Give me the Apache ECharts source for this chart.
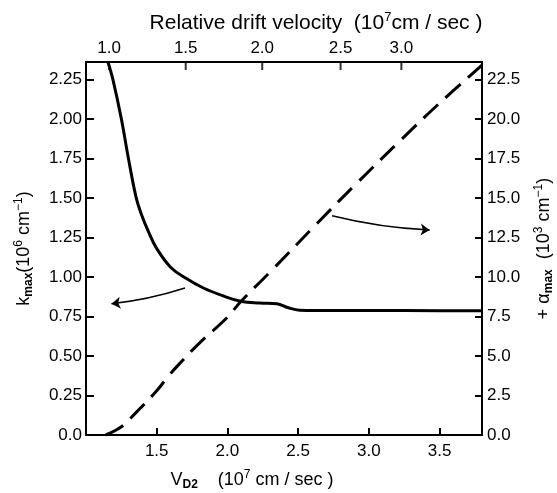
<!DOCTYPE html>
<html>
<head>
<meta charset="utf-8">
<script src="https://cdn.jsdelivr.net/npm/echarts@6/dist/echarts.min.js"></script>
<style>
html,body{margin:0;padding:0;background:#fff;}
#chart{width:557px;height:493px;}
</style>
</head>
<body>
<div id="chart"></div>
<script>
// Bottom axis: V_D2 (10^7 cm/sec)
const xMin = 1.0, xMax = 3.8;
// Top axis: relative drift velocity, tick positions expressed in V_D2 units
const topTickPositions = [1.163, 1.705, 2.246, 2.80, 3.23];
const topTickLabels = ['1.0', '1.5', '2.0', '2.5', '3.0'];
// left axis range (k_max) and right axis range (alpha_max)
const kMax = 2.36, alphaMax = 23.6;
// k_max (10^6 cm^-1) vs V_D2
const kmaxV = [1.155, 1.19, 1.25, 1.30, 1.355, 1.39, 1.44, 1.50, 1.60, 1.71, 1.83, 1.97, 2.10, 2.23, 2.35, 2.43, 2.51, 2.63, 3.0, 3.5, 3.8];
const kmaxVal = [2.36, 2.25, 2.00, 1.75, 1.50, 1.40, 1.29, 1.18, 1.06, 0.99, 0.93, 0.88, 0.845, 0.835, 0.83, 0.805, 0.79, 0.788, 0.788, 0.786, 0.786];
// alpha_max (10^3 cm^-1) vs V_D2
const alphaV = [1.14, 1.20, 1.27, 1.33, 1.39, 1.50, 1.585, 1.66, 1.80, 2.00, 2.09, 2.30, 2.63, 2.90, 3.23, 3.50, 3.80];
const alphaVal = [0.0, 0.25, 0.65, 1.2, 1.75, 2.8, 3.75, 4.5, 5.8, 7.45, 8.4, 10.3, 13.35, 15.8, 18.7, 21.0, 23.4];
// annotation arrows (in V_D2 / k_max units)
const arrowLeft = [[1.70, 0.93], [1.18, 0.83]];
const arrowRight = [[2.74, 1.387], [3.43, 1.297]];

const FONT = 'Liberation Sans';
const black = '#000';

const chart = echarts.init(document.getElementById('chart'));
const pair = (xs, ys) => xs.map((x, i) => [x, ys[i]]);

const supRich = {
  n: {fontSize: 18, fontFamily: FONT, color: black},
  sup: {fontSize: 12, fontFamily: FONT, color: black, padding: [0, 0, 11, 0]},
  sub: {fontSize: 12, fontFamily: FONT, color: black, fontWeight: 'bold', padding: [9, 0, 0, 0]}
};
const topRich = {
  n: {fontSize: 21, fontFamily: FONT, color: black},
  sup: {fontSize: 13, fontFamily: FONT, color: black, padding: [0, 0, 12, 0]}
};

const labelStyle = {fontSize: 17, fontFamily: FONT, color: black};
const axisLineStyle = {color: black, width: 2};
const tickStyle = {color: black, width: 2};

chart.setOption({
  animation: false,
  backgroundColor: '#fff',
  grid: {left: 86, right: 75, top: 62, bottom: 58, containLabel: false, outerBoundsMode: 'none'},
  xAxis: [{
    type: 'value', position: 'bottom', min: xMin, max: xMax, interval: 0.5,
    axisLine: {show: true, onZero: false, lineStyle: axisLineStyle},
    axisTick: {show: true, inside: true, length: 7, lineStyle: tickStyle},
    axisLabel: Object.assign({margin: 8, showMinLabel: false, showMaxLabel: false,
      formatter: v => v.toFixed(1)}, labelStyle),
    splitLine: {show: false},
    name: '{n|V}{sub|D2}{n|    (10}{sup|7}{n| cm / sec )}',
    nameLocation: 'middle', nameGap: 34,
    nameTextStyle: {rich: supRich, padding: [0, 64, 0, 0]}
  }, {
    type: 'value', position: 'top', min: xMin, max: xMax,
    axisLine: {show: true, onZero: false, lineStyle: axisLineStyle},
    axisTick: {show: false},
    axisLabel: Object.assign({margin: 5, customValues: topTickPositions,
      formatter: v => { const i = topTickPositions.indexOf(v); return i >= 0 ? topTickLabels[i] : ''; }}, labelStyle),
    splitLine: {show: false},
    name: '{n|Relative drift velocity  (10}{sup|7}{n|cm / sec )}',
    nameLocation: 'middle', nameGap: 26,
    nameTextStyle: {rich: topRich, padding: [0, 0, 0, 64]}
  }],
  yAxis: [{
    type: 'value', position: 'left', min: 0, max: kMax, interval: 0.25,
    axisLine: {show: true, onZero: false, lineStyle: axisLineStyle},
    axisTick: {show: true, inside: true, length: 8, lineStyle: tickStyle},
    axisLabel: Object.assign({margin: 4, showMaxLabel: false,
      formatter: v => v === 0 ? '0.0' : v.toFixed(2)}, labelStyle),
    splitLine: {show: false},
    name: '{n|k}{sub|max}{n|(10}{sup|6}{n| cm}{sup|−1}{n|)}',
    nameLocation: 'middle', nameGap: 50, nameRotate: 90,
    nameTextStyle: {rich: supRich}
  }, {
    type: 'value', position: 'right', min: 0, max: alphaMax, interval: 2.5,
    axisLine: {show: true, onZero: false, lineStyle: axisLineStyle},
    axisTick: {show: true, inside: true, length: 7, lineStyle: tickStyle},
    axisLabel: Object.assign({margin: 5, showMaxLabel: false,
      formatter: v => v.toFixed(1)}, labelStyle),
    splitLine: {show: false},
    name: '{n|+ α}{sub|max}{n|  (10}{sup|3}{n| cm}{sup|−1}{n|)}',
    nameLocation: 'middle', nameGap: 51, nameRotate: 90,
    nameTextStyle: {rich: supRich}
  }],
  series: [{
    type: 'line', xAxisIndex: 0, yAxisIndex: 0,
    data: pair(kmaxV, kmaxVal), smooth: 0.4, showSymbol: false,
    lineStyle: {color: black, width: 3}, clip: true
  }, {
    type: 'line', xAxisIndex: 0, yAxisIndex: 1,
    data: pair(alphaV, alphaVal), smooth: 0.4, showSymbol: false,
    lineStyle: {color: black, width: 3, type: [20, 10]}, clip: true
  }, {
    // top-axis tick marks (non-uniform relative drift velocity scale)
    type: 'scatter', xAxisIndex: 0, yAxisIndex: 0, clip: false, silent: true,
    data: topTickPositions.map(p => [p, kMax]),
    symbol: 'rect', symbolSize: [2, 8], symbolOffset: [0, 4],
    itemStyle: {color: black}
  }, {
    type: 'lines', coordinateSystem: 'cartesian2d', xAxisIndex: 0, yAxisIndex: 0,
    symbol: ['none', 'arrow'], symbolSize: [1, 9],
    lineStyle: {color: black, width: 1.5, opacity: 1},
    data: [
      {coords: arrowLeft, lineStyle: {curveness: 0.05}},
      {coords: arrowRight, lineStyle: {curveness: -0.05}}
    ]
  }]
});
</script>
</body>
</html>
